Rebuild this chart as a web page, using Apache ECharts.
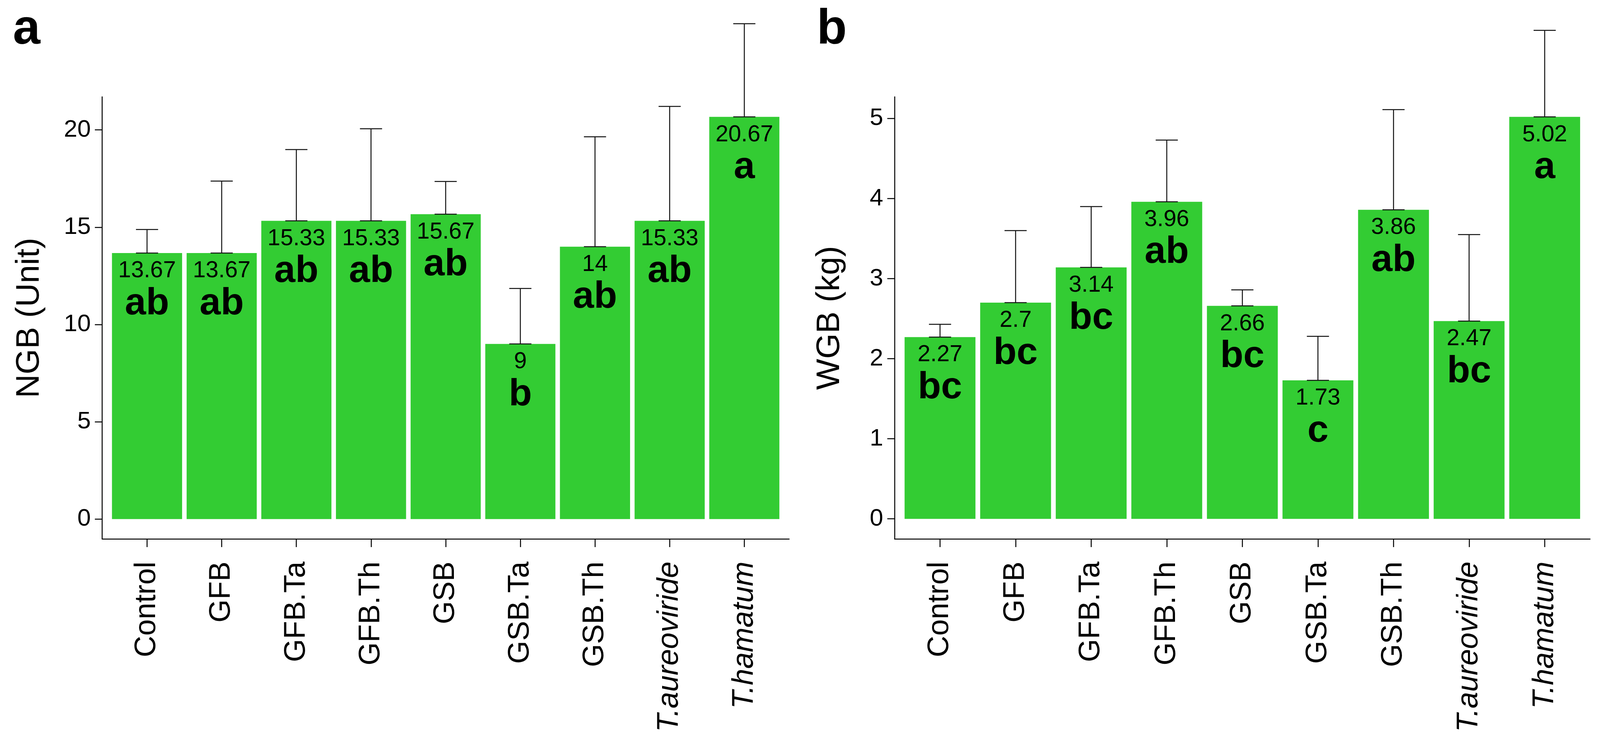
<!DOCTYPE html>
<html>
<head>
<meta charset="utf-8">
<script src="https://cdn.jsdelivr.net/npm/echarts@6/dist/echarts.min.js"></script>
<style>
  html, body { margin: 0; padding: 0; background: #fff; overflow: hidden; }
  #chart { width: 100vw; height: 100vh; }
</style>
</head>
<body>
<div id="chart"></div>
<script>
// treatments on the x axis (same for both panels)
const categories = ["Control", "GFB", "GFB.Ta", "GFB.Th", "GSB", "GSB.Ta", "GSB.Th", "T.aureoviride", "T.hamatum"];
const italicNames = ["T.aureoviride", "T.hamatum"];

// panel a: number of grape bunches
const ngbMean = [13.67, 13.67, 15.33, 15.33, 15.67, 9, 14, 15.33, 20.67];
const ngbTop = [14.88, 17.37, 18.99, 20.06, 17.35, 11.85, 19.65, 21.21, 25.46]; // whisker ends
const ngbLetters = ["ab", "ab", "ab", "ab", "ab", "b", "ab", "ab", "a"];
const ngbTicks = [0, 5, 10, 15, 20];

// panel b: weight of grape bunches
const wgbMean = [2.27, 2.7, 3.14, 3.96, 2.66, 1.73, 3.86, 2.47, 5.02];
const wgbTop = [2.43, 3.60, 3.90, 4.73, 2.86, 2.28, 5.11, 3.55, 6.10];
const wgbLetters = ["bc", "bc", "bc", "ab", "bc", "c", "ab", "bc", "a"];
const wgbTicks = [0, 1, 2, 3, 4, 5];

const FONT = "'Liberation Sans', Arial, sans-serif";
const GREEN = "#33cc33";
const INK = "#000";
const catIdx = categories.map((c, i) => i);

// layout was measured on a 4335 px wide figure; the window may be narrower
const W = window.innerWidth || 4335;
const sx = W / 4335;
const fs = (1 + sx) / 2; // font scale, half way between
const X = (v) => v * sx;
const F = (v) => Math.round(v * fs);

const chart = echarts.init(document.getElementById("chart"));

function xAxisFor(gridIndex) {
  return {
    type: "value",
    gridIndex,
    min: -0.6,
    max: 8.6,
    splitLine: { show: false },
    axisLine: { onZero: false, lineStyle: { color: INK, width: 2.5 } },
    axisTick: { customValues: catIdx, length: 21, lineStyle: { color: INK, width: 2.5 } },
    axisLabel: {
      customValues: catIdx,
      rotate: 90,
      margin: 58,
      fontSize: F(78),
      fontFamily: FONT,
      color: INK,
      formatter: (v) => {
        const name = categories[Math.round(v)];
        return italicNames.includes(name) ? "{i|" + name + "}" : name;
      },
      rich: { i: { fontStyle: "italic", fontSize: F(78), fontFamily: FONT, color: INK } },
    },
  };
}

function yAxisFor(gridIndex, min, max, ticks, name, nameGap) {
  return {
    type: "value",
    gridIndex,
    min,
    max,
    name,
    nameLocation: "middle",
    nameGap,
    nameTextStyle: { fontSize: F(86), fontFamily: FONT, color: INK },
    splitLine: { show: false },
    axisLine: { show: true, onZero: false, lineStyle: { color: INK, width: 2.5 } },
    axisTick: { show: true, customValues: ticks, length: X(20), lineStyle: { color: INK, width: 2.5 } },
    axisLabel: { customValues: ticks, margin: X(31), fontSize: F(64), fontFamily: FONT, color: INK },
  };
}

function barSeries(idx, means, letters, width) {
  return {
    type: "bar",
    xAxisIndex: idx,
    yAxisIndex: idx,
    barWidth: width,
    itemStyle: { color: GREEN },
    data: means.map((v, i) => [i, v]),
    label: {
      show: true,
      position: "insideTop",
      distance: 12,
      formatter: (p) => "{v|" + String(means[p.dataIndex]) + "}\n{l|" + letters[p.dataIndex] + "}",
      rich: {
        v: { fontSize: F(61), lineHeight: 68, fontFamily: FONT, color: INK },
        l: { fontSize: F(100), lineHeight: 100, fontWeight: "bold", fontFamily: FONT, color: INK },
      },
    },
  };
}

function errorSeries(idx, means, tops) {
  return {
    type: "custom",
    xAxisIndex: idx,
    yAxisIndex: idx,
    clip: false,
    z: 5,
    encode: { x: 0, y: [1, 2] },
    data: means.map((v, i) => [i, v, tops[i]]),
    renderItem: (params, api) => {
      const base = api.coord([api.value(0), api.value(1)]);
      const top = api.coord([api.value(0), api.value(2)]);
      const hw = X(30);
      const style = { stroke: "#111", lineWidth: 2.5 };
      return {
        type: "group",
        children: [
          { type: "line", shape: { x1: base[0], y1: base[1], x2: top[0], y2: top[1] }, style },
          { type: "line", shape: { x1: top[0] - hw, y1: top[1], x2: top[0] + hw, y2: top[1] }, style },
          { type: "line", shape: { x1: base[0] - hw, y1: base[1], x2: base[0] + hw, y2: base[1] }, style },
        ],
      };
    },
  };
}

const option = {
  backgroundColor: "#fff",
  animation: false,
  title: [
    { text: "a", left: X(35), top: 14, padding: 0, textStyle: { fontSize: F(130), fontWeight: "bold", fontFamily: FONT, color: INK } },
    { text: "b", left: X(2213), top: 14, padding: 0, textStyle: { fontSize: F(130), fontWeight: "bold", fontFamily: FONT, color: INK } },
  ],
  grid: [
    { left: X(277), top: 248, width: X(1861), height: 1132 },
    { left: X(2424), top: 248, width: X(1884), height: 1132 },
  ],
  xAxis: [xAxisFor(0), xAxisFor(1)],
  yAxis: [
    yAxisFor(0, -1.02, 21.7, ngbTicks, "NGB (Unit)", X(152)),
    yAxisFor(1, -0.25, 5.27, wgbTicks, "WGB (kg)", X(131)),
  ],
  series: [
    barSeries(0, ngbMean, ngbLetters, X(190)),
    errorSeries(0, ngbMean, ngbTop),
    barSeries(1, wgbMean, wgbLetters, X(192)),
    errorSeries(1, wgbMean, wgbTop),
  ],
};

chart.setOption(option);
</script>
</body>
</html>
